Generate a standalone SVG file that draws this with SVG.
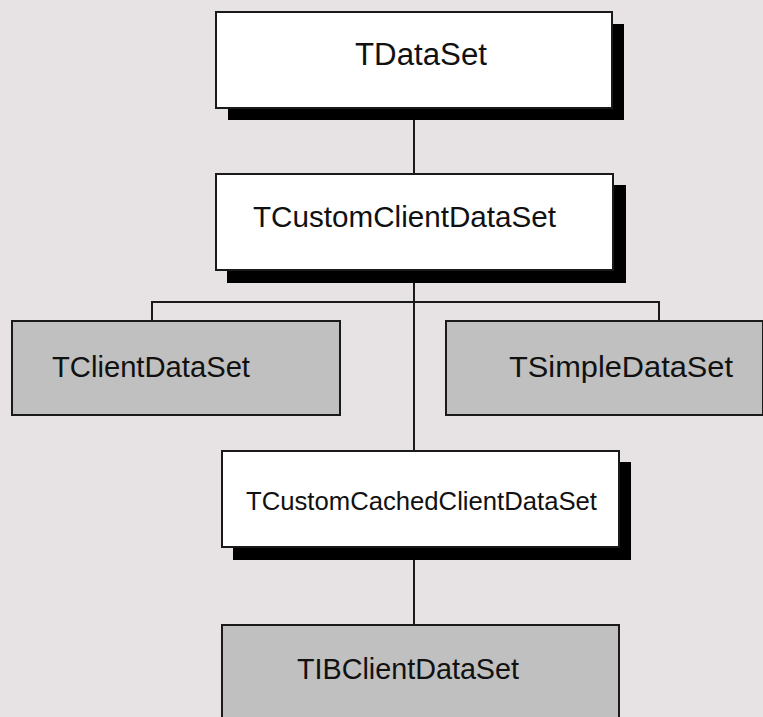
<svg xmlns="http://www.w3.org/2000/svg" width="763" height="717" viewBox="0 0 763 717">
<style>
.bg{fill:#e7e3e5}
.shadow{fill:#000}
.white{fill:#fff;stroke:#1a1a1a;stroke-width:2}
.gray{fill:#c0c0c0;stroke:#1a1a1a;stroke-width:2}
.lbl{font-family:"Liberation Sans",Arial,sans-serif;fill:#111}
.conn{fill:none;stroke:#1a1a1a;stroke-width:2}
</style>
<rect class="bg" x="0" y="0" width="763" height="717"/>
<g id="connectors">
<line class="conn" x1="414" y1="120" x2="414" y2="174"/>
<line class="conn" x1="414" y1="283" x2="414" y2="451"/>
<polyline class="conn" points="152,321 152,302 659,302 659,321"/>
<line class="conn" x1="414" y1="560" x2="414" y2="625"/>
</g>
<g id="TDataSet">
<rect class="shadow" x="228" y="24" width="396" height="96"/>
<rect class="white" x="216" y="12" width="396" height="96"/>
<text class="lbl" x="355" y="65" font-size="31" textLength="132" lengthAdjust="spacingAndGlyphs">TDataSet</text>
</g>
<g id="TCustomClientDataSet">
<rect class="shadow" x="227" y="185" width="399" height="98"/>
<rect class="white" x="216" y="174" width="397" height="96"/>
<text class="lbl" x="253" y="227" font-size="29" textLength="303" lengthAdjust="spacingAndGlyphs">TCustomClientDataSet</text>
</g>
<g id="TClientDataSet">
<rect class="gray" x="12" y="321" width="328" height="94"/>
<text class="lbl" x="52" y="377" font-size="29" textLength="198" lengthAdjust="spacingAndGlyphs">TClientDataSet</text>
</g>
<g id="TSimpleDataSet">
<rect class="gray" x="446" y="321" width="317" height="94"/>
<text class="lbl" x="509" y="377" font-size="29" textLength="224" lengthAdjust="spacingAndGlyphs">TSimpleDataSet</text>
</g>
<g id="TCustomCachedClientDataSet">
<rect class="shadow" x="233" y="462" width="398" height="98"/>
<rect class="white" x="222" y="451" width="397" height="96"/>
<text class="lbl" x="246" y="510" font-size="26" textLength="351" lengthAdjust="spacingAndGlyphs">TCustomCachedClientDataSet</text>
</g>
<g id="TIBClientDataSet">
<rect class="gray" x="222" y="625" width="397" height="100"/>
<text class="lbl" x="297" y="679" font-size="29" textLength="222" lengthAdjust="spacingAndGlyphs">TIBClientDataSet</text>
</g>
</svg>
